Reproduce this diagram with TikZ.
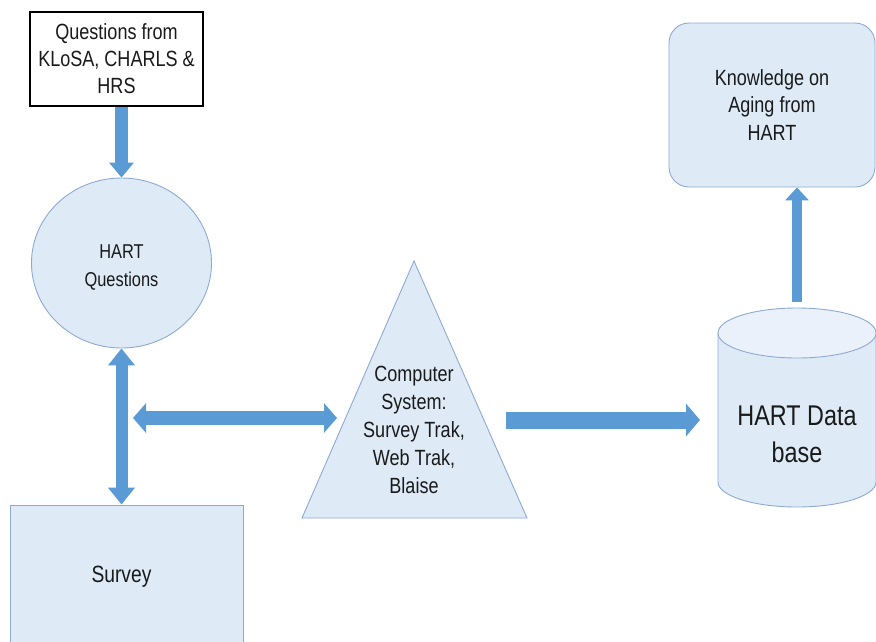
\documentclass[tikz,border=0pt]{standalone}
\usepackage{fontspec}
\setmainfont{Liberation Sans}[FakeStretch=0.82]
\usetikzlibrary{arrows.meta,shapes.geometric,calc}
\definecolor{boxfill}{HTML}{DEEBF7}
\definecolor{boxline}{HTML}{8EAAD2}
\definecolor{arrowblue}{HTML}{5B9BD5}
\definecolor{topfill}{HTML}{EAF1FA}
\definecolor{txt}{HTML}{1A1A1A}
\tikzset{
  shapebox/.style={fill=boxfill,draw=boxline,line width=0.9pt},
  lbl/.style={align=center,inner sep=0pt,text=txt},
  fat/.style n args={3}{draw=arrowblue,line width=#1,-{Triangle[width=#2,length=#3]}},
  fatboth/.style n args={3}{draw=arrowblue,line width=#1,{Triangle[width=#2,length=#3]}-{Triangle[width=#2,length=#3]}}
}
\begin{document}
\begin{tikzpicture}[x=1pt,y=-1pt]
\clip (0,0) rectangle (876,641);
\fill[white] (0,0) rectangle (876,641);
% source box
\node[draw=black,fill=white,line width=1.3pt,minimum width=173pt,minimum height=94pt,lbl,
      font=\fontsize{22}{27}\selectfont] (src) at (116.5,59) {Questions from\\KLoSA, CHARLS \&\\HRS};
% HART questions ellipse
\node[ellipse,shapebox,minimum width=180pt,minimum height=170pt] (q) at (121.5,263) {};
\node[lbl,font=\fontsize{20}{28}\selectfont] (qt) at (121.5,268) {HART\\Questions};
% Survey box
\node[shapebox,minimum width=233pt,minimum height=144pt,lbl,
      font=\fontsize{23.5}{24}\selectfont] (sv) at (126.5,577) {\hspace*{-10pt}Survey};
% triangle
\path[shapebox] (414,261) -- (527,518) -- (302,518) -- cycle;
\node[lbl,font=\fontsize{22}{28}\selectfont] (cs) at (414,430) {Computer\\System:\\Survey Trak,\\Web Trak,\\Blaise};
% cylinder
\path[shapebox] (718,333) -- (718,482) arc[start angle=180,end angle=0,x radius=79,y radius=25] -- (876,333);
\path[shapebox,fill=topfill] (797,333) ellipse[x radius=79,y radius=25];
\node[lbl,font=\fontsize{28.5}{37}\selectfont] (db) at (797,434) {HART Data\\base};
% knowledge box
\node[shapebox,rounded corners=20pt,minimum width=206pt,minimum height=164pt,lbl,
      font=\fontsize{22}{27.5}\selectfont] (kn) at (772,105) {Knowledge on\\Aging from\\HART};
% coordinates
\coordinate (hl) at (133,418);
\coordinate (hr) at (337,418);
\coordinate (rl) at (506,420);
\coordinate (rr) at (700,420);
\coordinate (dbtop) at (797,302);
% arrows
\draw[fat={13pt}{24pt}{15pt}] (q.north |- src.south) -- (q.north);
\draw[fatboth={12pt}{26pt}{17pt}] (q.south) -- (q.south |- sv.north);
\draw[fatboth={14pt}{29pt}{13pt}] (hl) -- (hr);
\draw[fat={17pt}{32pt}{14pt}] (rl) -- (rr);
\draw[fat={10pt}{23pt}{13pt}] (dbtop) -- (dbtop |- kn.south);
\end{tikzpicture}
\end{document}
